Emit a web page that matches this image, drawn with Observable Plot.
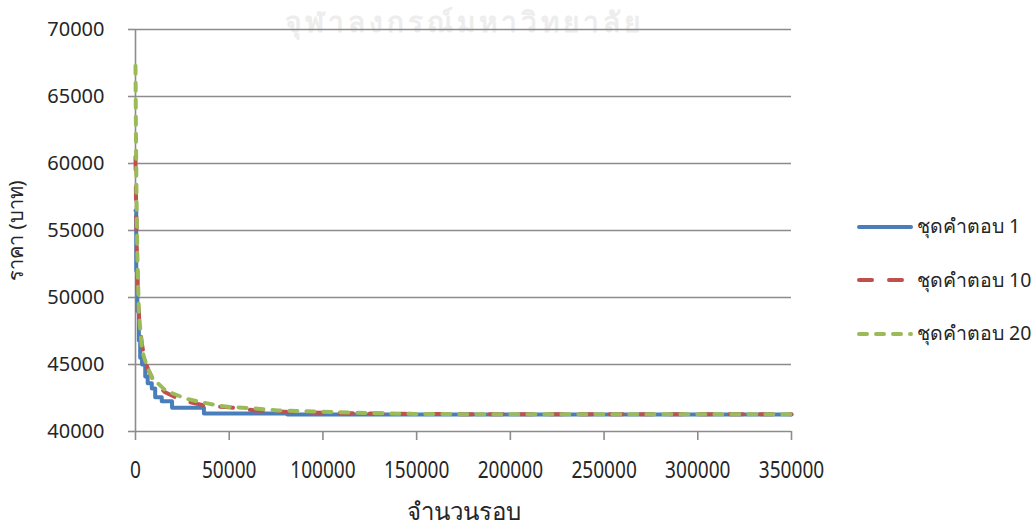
<!DOCTYPE html>
<html>
<head>
<meta charset="utf-8">
<script src="https://cdn.jsdelivr.net/npm/d3@7"></script>
<script src="https://cdn.jsdelivr.net/npm/@observablehq/plot@0.6"></script>
<style>
  body { margin: 0; background: #fff; }
  #chart { position: relative; width: 1035px; height: 528px; overflow: hidden;
           font-family: "Noto Sans", "DejaVu Sans", sans-serif; color: #262626; }
  #chart svg.plot { position: absolute; left: 0; top: 0; }
  .watermark { position: absolute; left: 285px; top: 0px; font-size: 28px; font-weight: bold;
               color: #ededed; white-space: nowrap; letter-spacing: 4px; }
  .legend { position: absolute; left: 855px; top: 200px; }
  .legend-item { display: flex; align-items: center; height: 53.5px; font-size: 19.5px; white-space: nowrap; }
  .legend-item svg { margin-right: 2px; flex: none; }
</style>
</head>
<body>
<div id="chart">
  <div class="watermark">จุฬาลงกรณ์มหาวิทยาลัย</div>
</div>
<script>
// Best cost found so far vs. iteration count, for three solution sets
const seriesNames = ["ชุดคำตอบ 1", "ชุดคำตอบ 10", "ชุดคำตอบ 20"];
const seriesColors = ["#4a7ebb", "#c0504d", "#9bbb59"];
const seriesDash = [null, "13,17", "8,9"];

const iterations1 = [0, 400, 1000, 1800, 2500, 3500, 5200, 6500, 8700, 10500, 14000, 19500, 36500, 81000, 350000];
const cost1 = [56500, 52000, 49000, 46800, 45500, 45000, 44100, 43600, 43200, 42550, 42250, 41780, 41350, 41260, 41260];

const iterations10 = [0, 300, 700, 1200, 2000, 3400, 5000, 7000, 10000, 15800, 24700, 37000, 50000, 64000, 88000, 141000, 195000, 350000];
const cost10 = [60500, 57000, 53500, 50500, 48300, 46550, 45300, 44550, 43700, 42930, 42320, 41940, 41800, 41570, 41420, 41320, 41280, 41280];

const iterations20 = [0, 200, 500, 1000, 1800, 3500, 6000, 8900, 16000, 26700, 35000, 44000, 51000, 64000, 76000, 106000, 141000, 195000, 350000];
const cost20 = [67300, 63000, 58000, 53000, 48900, 46050, 44900, 44000, 43060, 42460, 42190, 41940, 41820, 41720, 41570, 41450, 41320, 41280, 41280];

const yTicks = [40000, 45000, 50000, 55000, 60000, 65000, 70000];
const xTicks = [0, 50000, 100000, 150000, 200000, 250000, 300000, 350000];
const xTitle = "จำนวนรอบ";
const yTitle = "ราคา (บาท)";

const toRows = (xs, ys) => xs.map((x, i) => ({x, y: ys[i]}));
const rows1 = toRows(iterations1, cost1);
const rows10 = toRows(iterations10, cost10);
const rows20 = toRows(iterations20, cost20);

const axisGray = "#8c8c8c";
const fmt = d3.format("d");

const plot = Plot.plot({
  width: 1035,
  height: 528,
  marginLeft: 135,
  marginRight: 244,
  marginTop: 29,
  marginBottom: 97,
  style: {fontFamily: "'Noto Sans', 'DejaVu Sans', sans-serif", fontSize: "20px", color: "#262626", background: "transparent"},
  x: {domain: [0, 350000]},
  y: {domain: [40000, 70000]},
  marks: [
    Plot.gridY(yTicks, {stroke: axisGray, strokeOpacity: 1, strokeWidth: 1.6}),
    Plot.ruleX([0], {stroke: axisGray, strokeWidth: 1.6}),
    Plot.axisY(yTicks, {tickSize: 7, tickPadding: 24, stroke: axisGray, strokeWidth: 1.6, tickFormat: fmt,
      fontSize: 20, label: yTitle, labelAnchor: "center", labelArrow: "none", labelOffset: 127}),
    Plot.axisX(xTicks, {tickSize: 9, tickPadding: 20, stroke: axisGray, strokeWidth: 1.6, tickFormat: fmt,
      fontSize: 24, label: xTitle, labelAnchor: "center", labelArrow: "none", labelOffset: 88}),
    Plot.line(rows1, {x: "x", y: "y", curve: "step-after", stroke: seriesColors[0], strokeWidth: 4, strokeLinejoin: "round"}),
    Plot.line(rows10, {x: "x", y: "y", stroke: seriesColors[1], strokeWidth: 4, strokeDasharray: seriesDash[1], strokeLinecap: "round"}),
    Plot.line(rows20, {x: "x", y: "y", stroke: seriesColors[2], strokeWidth: 4, strokeDasharray: seriesDash[2], strokeLinecap: "round"})
  ]
});
plot.classList.add("plot");

// narrow the x tick labels
d3.select(plot).selectAll('[aria-label="x-axis tick label"] text').each(function () {
  const t = this.textContent;
  this.setAttribute("textLength", t.length * 10.9);
  this.setAttribute("lengthAdjust", "spacingAndGlyphs");
});

const chart = document.getElementById("chart");
chart.appendChild(plot);

// legend at the right
const legend = document.createElement("div");
legend.className = "legend";
seriesNames.forEach((name, i) => {
  const item = document.createElement("div");
  item.className = "legend-item";
  const sw = d3.create("svg").attr("width", 60).attr("height", 10);
  sw.append("line").attr("x1", 4).attr("x2", 56).attr("y1", 5).attr("y2", 5)
    .attr("stroke", seriesColors[i]).attr("stroke-width", 4).attr("stroke-linecap", "round")
    .attr("stroke-dasharray", seriesDash[i]);
  item.appendChild(sw.node());
  const span = document.createElement("span");
  span.textContent = name;
  item.appendChild(span);
  legend.appendChild(item);
});
chart.appendChild(legend);
</script>
</body>
</html>
